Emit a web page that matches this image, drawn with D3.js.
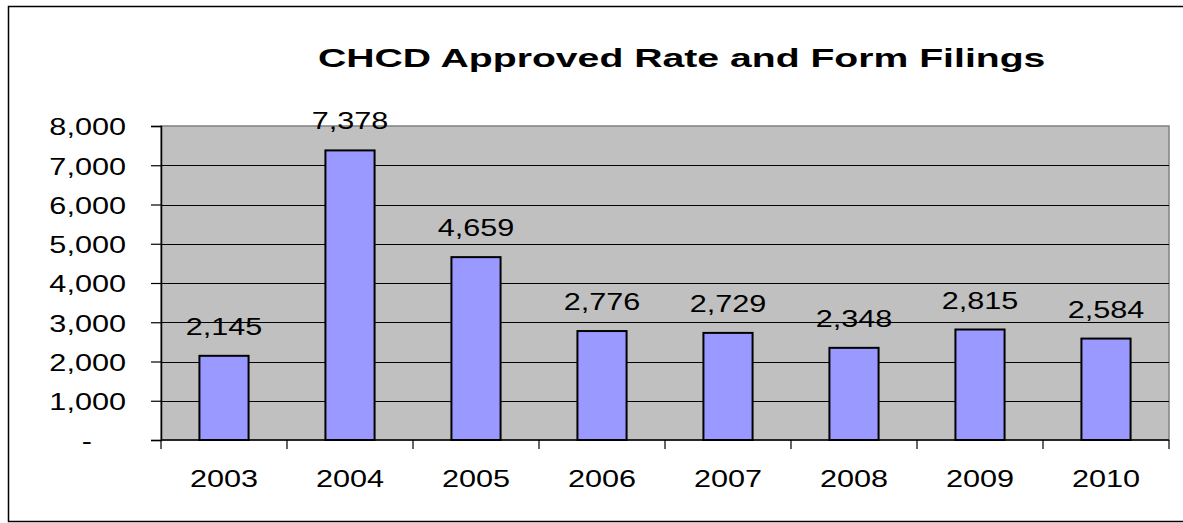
<!DOCTYPE html>
<html>
<head>
<meta charset="utf-8">
<script src="https://cdn.jsdelivr.net/npm/d3@7"></script>
<style>
  html, body { margin: 0; padding: 0; background: #fff; }
  svg { display: block; }
  text { font-family: "Liberation Sans", Arial, sans-serif; fill: #000; }
</style>
</head>
<body>
<svg id="chart" width="1183" height="523"></svg>
<script>
const title = "CHCD Approved Rate and Form Filings";
const years = ["2003", "2004", "2005", "2006", "2007", "2008", "2009", "2010"];
const filings = [2145, 7378, 4659, 2776, 2729, 2348, 2815, 2584];
const yTicks = [0, 1000, 2000, 3000, 4000, 5000, 6000, 7000, 8000];

const W = 1183, H = 523;
const plot = { left: 161, right: 1169, top: 126, bottom: 440 };
const fontSize = 24.7, sx = 1.24;

const svg = d3.select("#chart");

// outer frame
svg.append("rect")
  .attr("x", 8.5).attr("y", 6.5)
  .attr("width", 1190).attr("height", 515)
  .attr("fill", "#fff").attr("stroke", "#000").attr("stroke-width", 1.5);

// title
svg.append("text")
  .attr("transform", "translate(681.7,66.7) scale(1.53,1)")
  .attr("text-anchor", "middle")
  .attr("font-weight", "bold")
  .attr("font-size", 25.6)
  .text(title);

const x = d3.scaleBand().domain(years)
  .range([plot.left, plot.right])
  .paddingInner(0.61).paddingOuter(0.305);
const y = d3.scaleLinear().domain([0, 8000]).range([plot.bottom, plot.top]);

// plot background
svg.append("rect")
  .attr("x", plot.left).attr("y", plot.top)
  .attr("width", plot.right - plot.left).attr("height", plot.bottom - plot.top)
  .attr("fill", "#c0c0c0").attr("stroke", "#808080").attr("stroke-width", 1.5);

// gridlines
svg.append("g").selectAll("line")
  .data(yTicks.filter(d => d > 0 && d < 8000))
  .join("line")
  .attr("x1", plot.left).attr("x2", plot.right)
  .attr("y1", d => Math.round(y(d)) + 0.5).attr("y2", d => Math.round(y(d)) + 0.5)
  .attr("stroke", "#000").attr("stroke-width", 1);

// y axis
const fmt = d3.format(",");
const yAxis = svg.append("g")
  .attr("transform", `translate(${plot.left},0)`)
  .call(d3.axisLeft(y).tickValues(yTicks).tickSize(10).tickFormat(d => d === 0 ? "-" : fmt(d)));
yAxis.select(".domain").attr("stroke", "#000").attr("stroke-width", 1.5);
yAxis.selectAll(".tick line").attr("stroke", "#000").attr("stroke-width", 1.2);
yAxis.selectAll(".tick text")
  .attr("x", 0).attr("dy", "0.36em")
  .attr("font-size", fontSize).attr("font-family", null)
  .attr("transform", d => d === 0 ? `translate(-69,0) scale(${sx},1)` : `translate(-35,0) scale(${sx},1)`);

// bars
svg.append("g").selectAll("rect")
  .data(filings)
  .join("rect")
  .attr("x", (d, i) => x(years[i]))
  .attr("y", d => y(d))
  .attr("width", x.bandwidth())
  .attr("height", d => y(0) - y(d))
  .attr("fill", "#9999ff")
  .attr("stroke", "#000").attr("stroke-width", 2);

// value labels
svg.append("g").selectAll("text")
  .data(filings)
  .join("text")
  .attr("transform", (d, i) => `translate(${x(years[i]) + x.bandwidth() / 2},${y(d) - 21}) scale(${sx},1)`)
  .attr("text-anchor", "middle")
  .attr("font-size", fontSize)
  .text(d => fmt(d));

// x axis
const xAxis = svg.append("g")
  .attr("transform", `translate(0,${plot.bottom})`)
  .call(d3.axisBottom(x).tickSize(0));
xAxis.select(".domain").remove();
xAxis.selectAll(".tick text")
  .attr("y", 0).attr("dy", 0)
  .attr("font-size", fontSize).attr("font-family", null)
  .attr("transform", `translate(0,46.7) scale(${sx},1)`);

// x axis line and boundary ticks
svg.append("line")
  .attr("x1", plot.left).attr("x2", plot.right)
  .attr("y1", plot.bottom).attr("y2", plot.bottom)
  .attr("stroke", "#000").attr("stroke-width", 1.5);
const bounds = years.map(d => x(d) + x.bandwidth() / 2 - x.step() / 2).concat([plot.right]);
svg.append("g").selectAll("line")
  .data(bounds)
  .join("line")
  .attr("x1", d => d).attr("x2", d => d)
  .attr("y1", plot.bottom).attr("y2", plot.bottom + 9)
  .attr("stroke", "#000").attr("stroke-width", 1.2);
</script>
</body>
</html>
